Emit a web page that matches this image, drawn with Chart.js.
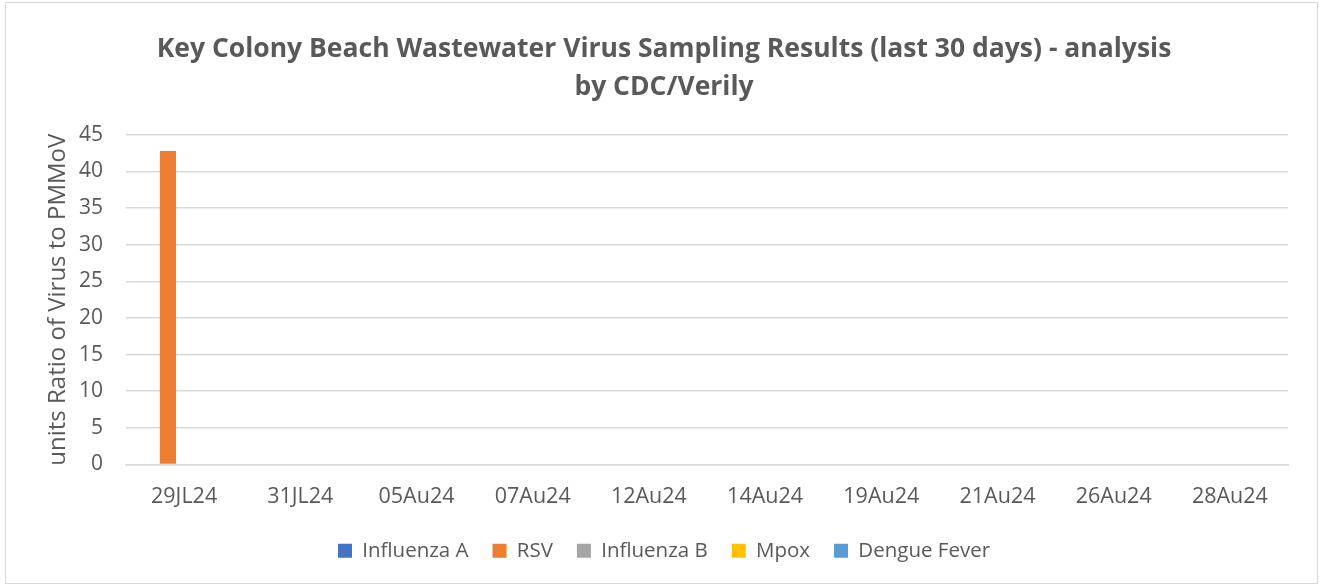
<!DOCTYPE html>
<html>
<head>
<meta charset="utf-8">
<script src="https://cdn.jsdelivr.net/npm/chart.js@4.4.0/dist/chart.umd.min.js"></script>
<style>
  html, body { margin: 0; padding: 0; background: #fff; }
  #wrap { position: absolute; left: 0; top: 0; width: 1324px; height: 587px; }
</style>
</head>
<body>
<div id="wrap"><canvas id="myChart"></canvas></div>
<script>
// sample dates
const categories = ["29JL24", "31JL24", "05Au24", "07Au24", "12Au24", "14Au24", "19Au24", "21Au24", "26Au24", "28Au24"];

// values per virus (units ratio of virus to PMMoV)
const influenzaA = [0, 0, 0, 0, 0, 0, 0, 0, 0, 0];
const rsv = [42.8, 0, 0, 0, 0, 0, 0, 0, 0, 0];
const influenzaB = [0, 0, 0, 0, 0, 0, 0, 0, 0, 0];
const mpox = [0, 0, 0, 0, 0, 0, 0, 0, 0, 0];
const dengueFever = [0, 0, 0, 0, 0, 0, 0, 0, 0, 0];

const yTicks = [0, 5, 10, 15, 20, 25, 30, 35, 40, 45];

const txtColor = "#595959";
const fontFam = "'Open Sans', sans-serif";

// light frame around the whole chart, like the Excel chart area
const frame = {
  id: "frame",
  beforeDraw(chart) {
    const c = chart.ctx;
    c.save();
    c.fillStyle = "#fff";
    c.fillRect(0, 0, chart.width, chart.height);
    c.strokeStyle = "#d9d9d9";
    c.lineWidth = 1;
    c.strokeRect(5.5, 2.5, 1312, 581);
    c.restore();
  },
};

const ctx = document.getElementById("myChart").getContext("2d");
const myChart = new Chart(ctx, {
  type: "bar",
  data: {
    labels: categories,
    datasets: [
      { label: "Influenza A", data: influenzaA, backgroundColor: "#4472c4" },
      { label: "RSV", data: rsv, backgroundColor: "#ed7d31" },
      { label: "Influenza B", data: influenzaB, backgroundColor: "#a5a5a5" },
      { label: "Mpox", data: mpox, backgroundColor: "#ffc000" },
      { label: "Dengue Fever", data: dengueFever, backgroundColor: "#5b9bd5" },
    ],
  },
  options: {
    responsive: true,
    maintainAspectRatio: false,
    animation: false,
    layout: { padding: { left: 40, right: 36, top: 12, bottom: 16 } },
    datasets: { bar: { categoryPercentage: 0.695, barPercentage: 1 } },
    plugins: {
      title: {
        display: true,
        text: ["Key Colony Beach Wastewater Virus Sampling Results (last 30 days) - analysis", "by CDC/Verily"],
        color: txtColor,
        font: { family: fontFam, size: 26.5, weight: "bold", lineHeight: 1.45 },
        padding: { top: 18, bottom: 28 },
      },
      legend: {
        position: "bottom",
        labels: {
          color: txtColor,
          font: { family: fontFam, size: 20.5 },
          boxWidth: 14,
          boxHeight: 14,
          padding: 24,
        },
      },
      tooltip: { enabled: false },
    },
    scales: {
      x: {
        grid: { display: false, drawTicks: false },
        border: { display: true, color: "#d9d9d9", width: 1.5 },
        ticks: { color: txtColor, font: { family: fontFam, size: 21.5 }, padding: 19 },
        afterFit: (scale) => { scale.height = 52; },
      },
      y: {
        min: 0,
        max: 45,
        afterBuildTicks: (axis) => { axis.ticks = yTicks.map((v) => ({ value: v })); },
        afterFit: (scale) => { scale.width = 86; },
        grid: { color: "#d9d9d9", lineWidth: 1.5, drawTicks: false },
        border: { display: false },
        ticks: { color: txtColor, font: { family: fontFam, size: 21 }, padding: 23 },
        title: {
          display: true,
          text: "units Ratio of Virus to PMMoV",
          color: txtColor,
          font: { family: fontFam, size: 24 },
          padding: 4,
        },
      },
    },
  },
  plugins: [frame],
});
</script>
</body>
</html>
